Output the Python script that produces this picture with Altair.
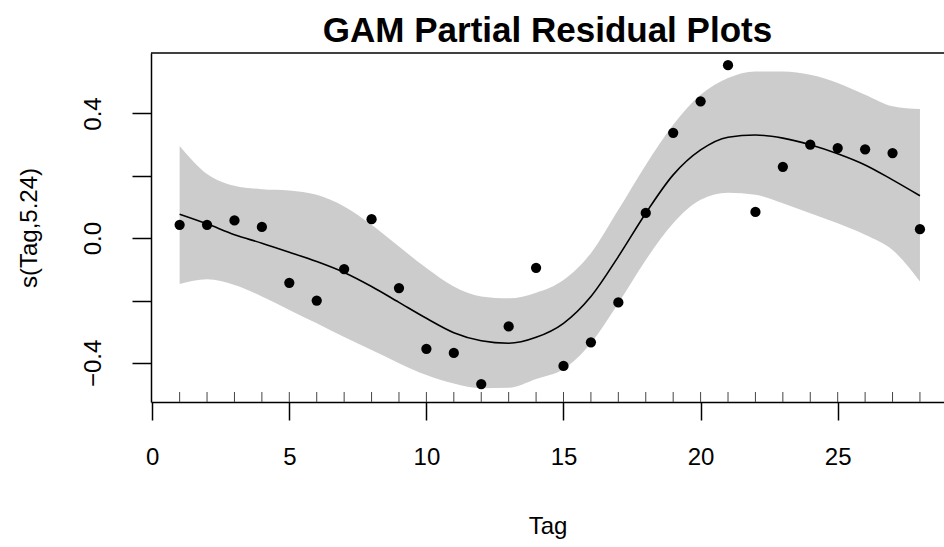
import altair as alt
import pandas as pd

# Tag values and the partial residuals of the smooth term
tags = list(range(1, 29))
residuals = [0.043, 0.043, 0.057, 0.036, -0.143, -0.200, -0.099, 0.061, -0.160, -0.355,
             -0.368, -0.468, -0.283, -0.095, -0.410, -0.334, -0.206, 0.081, 0.338, 0.439,
             0.555, 0.084, 0.229, 0.300, 0.289, 0.285, 0.273, 0.029]
# fitted smooth s(Tag) and its approximate 95% band
fit = [0.077, 0.046, 0.011, -0.016, -0.045, -0.075, -0.110, -0.155, -0.206, -0.257,
       -0.303, -0.329, -0.337, -0.318, -0.273, -0.187, -0.059, 0.080, 0.203, 0.283,
       0.324, 0.331, 0.321, 0.300, 0.271, 0.235, 0.187, 0.136]
upper = [0.296, 0.206, 0.168, 0.157, 0.153, 0.139, 0.102, 0.043, -0.027, -0.096,
         -0.155, -0.187, -0.193, -0.175, -0.134, -0.048, 0.091, 0.235, 0.364, 0.460,
         0.514, 0.535, 0.535, 0.524, 0.498, 0.460, 0.423, 0.414]
lower = [-0.147, -0.132, -0.150, -0.187, -0.230, -0.273, -0.317, -0.359, -0.401, -0.439,
         -0.466, -0.481, -0.480, -0.452, -0.420, -0.337, -0.209, -0.070, 0.048, 0.123,
         0.146, 0.139, 0.112, 0.080, 0.048, 0.011, -0.038, -0.139]

x_ticks = [0, 5, 10, 15, 20, 25]
y_ticks = [-0.4, -0.2, 0.0, 0.2, 0.4]
x_domain = [-0.044, 28.877]
y_domain = [-0.5255, 0.594]

df = pd.DataFrame({"Tag": tags, "resid": residuals, "fit": fit,
                   "upper": upper, "lower": lower})

FONT = "Liberation Sans"

x_scale = alt.Scale(domain=x_domain, nice=False, zero=False)
y_scale = alt.Scale(domain=y_domain, nice=False, zero=False)

x_axis = alt.Axis(values=x_ticks, title="Tag", tickSize=18, labelPadding=25,
                  titlePadding=45, labelFlush=False, labelOverlap=False,
                  grid=False)
y_axis = alt.Axis(values=y_ticks, title="s(Tag,5.24)", tickSize=19, labelPadding=27,
                  titlePadding=40, labelAngle=-90, labelAlign="center",
                  labelBaseline="bottom", labelFlush=False, labelOverlap=False,
                  grid=False,
                  labelExpr="abs(datum.value) > 0.3 || abs(datum.value) < 0.01 ? "
                            "replace(format(datum.value, '.1f'), '-', '\u2212') : ''")

X = alt.X("Tag:Q", scale=x_scale, axis=x_axis)

base = alt.Chart(df)

band = base.mark_area(color="#cccccc", interpolate="monotone").encode(
    x=X,
    y=alt.Y("lower:Q", scale=y_scale, axis=y_axis),
    y2="upper:Q",
)

curve = base.mark_line(color="black", strokeWidth=1.6, interpolate="monotone").encode(
    x=X,
    y=alt.Y("fit:Q", scale=y_scale, axis=y_axis),
)

dots = base.mark_circle(color="black", opacity=1, size=105).encode(
    x=X,
    y=alt.Y("resid:Q", scale=y_scale, axis=y_axis),
)

# rug of observed Tag values along the bottom edge
rug = base.mark_rule(color="#444444", strokeWidth=1).encode(
    x=X,
    y=alt.datum(y_domain[0]),
    y2=alt.datum(y_domain[0] + 0.032),
)

# upper frame line of the plotting box
top_edge = alt.Chart(pd.DataFrame({"v": [y_domain[1]]})).mark_rule(
    color="black", strokeWidth=1.5
).encode(y=alt.Y("v:Q", scale=y_scale, axis=y_axis))

chart = alt.layer(band, curve, dots, rug, top_edge).properties(
    width=793,
    height=349,
    title=alt.TitleParams("GAM Partial Residual Plots", fontSize=35, fontWeight="bold",
                          font=FONT, color="black", anchor="middle", frame="group",
                          offset=3),
    autosize=alt.AutoSizeParams(type="none"),
    padding={"left": 151, "top": 53, "right": 0, "bottom": 145},
).configure(
    background="white"
).configure_view(
    stroke=None
).configure_axis(
    domainColor="black", domainWidth=1.5, tickColor="black", tickWidth=1.5,
    labelColor="black", titleColor="black", labelFont=FONT, titleFont=FONT,
    labelFontSize=24, titleFontSize=24, titleFontWeight="normal",
)

chart.save("out.html", embed_options={"renderer": "svg", "actions": False})
